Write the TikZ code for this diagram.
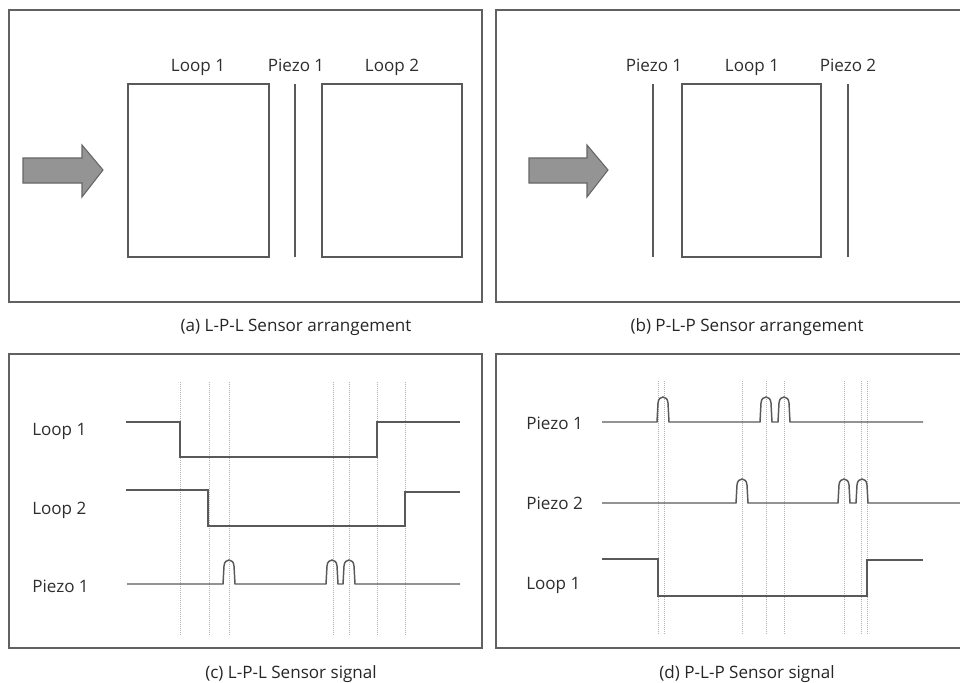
\documentclass[tikz,border=0pt]{standalone}
\usepackage{fontspec}
\setmainfont{Open Sans}
\begin{document}
\begin{tikzpicture}[x=0.75pt,y=-0.75pt,
  panel/.style={draw=black!62,line width=1.1pt},
  sensor/.style={draw=black!65,line width=0.9pt},
  sig/.style={draw=black!65,line width=1.1pt},
  guide/.style={draw=black!30,line width=0.5pt,densely dotted},
  lbl/.style={font=\fontsize{12.8}{15}\selectfont,text=black!82,inner sep=0pt},
  captxt/.style={font=\fontsize{12.8}{15}\selectfont,text=black!85,inner sep=0pt,anchor=base},
  flow/.style={fill=black!42,draw=black!60,line width=0.8pt}]
\useasboundingbox (0,0) rectangle (960,682);
% ---------- panel frames ----------
\draw[panel] (9,10) rectangle (482,302);
\draw[panel] (965,10) -- (496,10) -- (496,302) -- (965,302);
\draw[panel] (9,354) rectangle (482,648);
\draw[panel] (965,354) -- (496,354) -- (496,648) -- (965,648);
% ---------- (a) ----------
\draw[flow] (23,158) -- (82,158) -- (82,145) -- (103,170) -- (82,197) -- (82,183) -- (23,183) -- cycle;
\draw[sensor] (128,84) rectangle (269,257);
\draw[sensor] (322,84) rectangle (462,257);
\coordinate (aP1t) at (295,84); \coordinate (aP1b) at (295,257);
\draw[sensor] (aP1t) -- (aP1b);
\node[lbl,anchor=base] (taL1) at (198,71) {Loop 1};
\node[lbl,anchor=base] (taP1) at (296,71) {Piezo 1};
\node[lbl,anchor=base] (taL2) at (392,71) {Loop 2};
\node[captxt] (capa) at (296,331) {(a) L-P-L Sensor arrangement};
% ---------- (b) ----------
\draw[flow] (529,158) -- (587,158) -- (587,145) -- (608,170) -- (587,197) -- (587,183) -- (529,183) -- cycle;
\coordinate (bP1t) at (653,84); \coordinate (bP1b) at (653,257);
\draw[sensor] (bP1t) -- (bP1b);
\draw[sensor] (682,84) rectangle (821,257);
\coordinate (bP2t) at (848,84); \coordinate (bP2b) at (848,257);
\draw[sensor] (bP2t) -- (bP2b);
\node[lbl,anchor=base] (tbP1) at (654,71) {Piezo 1};
\node[lbl,anchor=base] (tbL1) at (752,71) {Loop 1};
\node[lbl,anchor=base] (tbP2) at (848,71) {Piezo 2};
\node[captxt] (capb) at (747,331) {(b) P-L-P Sensor arrangement};
% ---------- (c) ----------
\foreach \gx in {180,209,229,333,349,377,405}
  \draw[guide] (\gx,382) -- (\gx,635);
\draw[sig] (126,422) -- (180,422) -- (180,457) -- (377,457) -- (377,422) -- (460,422);
\draw[sig] (126,490) -- (208,490) -- (208,526) -- (405,526) -- (405,492) -- (460,492);
\draw[sig] (127,584) -- (223,584)
  -- (224,566) .. controls (224.5,558) and (233.5,558) .. (234,566) -- (235,584)
  -- (326,584)
  -- (327,566) .. controls (327.5,558) and (336.5,558) .. (337,566) -- (338,584)
  -- (343,584)
  -- (344,566) .. controls (344.5,558) and (353.5,558) .. (354,566) -- (355,584)
  -- (460,584);
\node[lbl,anchor=base west] (lcL1) at (32,435) {Loop 1};
\node[lbl,anchor=base west] (lcL2) at (32,514) {Loop 2};
\node[lbl,anchor=base west] (lcP1) at (32,592) {Piezo 1};
\node[captxt] (capc) at (291,678) {(c) L-P-L Sensor signal};
% ---------- (d) ----------
\foreach \gx in {658,664,742,766,784,844,861,867}
  \draw[guide] (\gx,381) -- (\gx,634);
\draw[sig] (602,422) -- (657,422)
  -- (658,403) .. controls (658.5,395) and (667.5,395) .. (668,403) -- (669,422)
  -- (760,422)
  -- (761,403) .. controls (761.5,395) and (770.5,395) .. (771,403) -- (772,422)
  -- (778,422)
  -- (779,403) .. controls (779.5,395) and (788.5,395) .. (789,403) -- (790,422)
  -- (923,422);
\draw[sig] (602,503) -- (736,503)
  -- (737,485) .. controls (737.5,477) and (746.5,477) .. (747,485) -- (748,503)
  -- (838,503)
  -- (839,485) .. controls (839.5,477) and (848.5,477) .. (849,485) -- (850,503)
  -- (856,503)
  -- (857,485) .. controls (857.5,477) and (866.5,477) .. (867,485) -- (868,503)
  -- (960,503);
\draw[sig] (602,559) -- (658,559) -- (658,596) -- (867,596) -- (867,560) -- (923,560);
\node[lbl,anchor=base west] (ldP1) at (526,429) {Piezo 1};
\node[lbl,anchor=base west] (ldP2) at (526,509) {Piezo 2};
\node[lbl,anchor=base west] (ldL1) at (526,589) {Loop 1};
\node[captxt] (capd) at (747,678) {(d) P-L-P Sensor signal};
\end{tikzpicture}
\end{document}
